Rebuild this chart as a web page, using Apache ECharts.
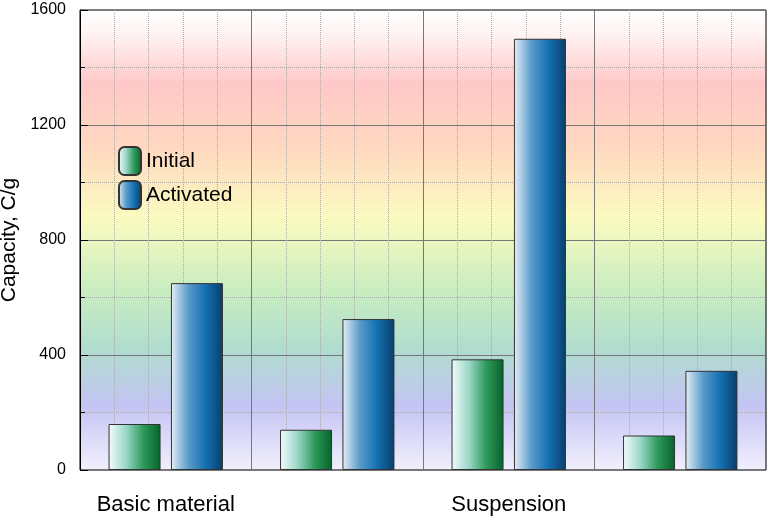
<!DOCTYPE html>
<html>
<head>
<meta charset="utf-8">
<script src="https://cdn.jsdelivr.net/npm/echarts@6/dist/echarts.min.js"></script>
<style>html,body{margin:0;padding:0;background:#fff}#chart{width:768px;height:519px}</style>
</head>
<body>
<div id="chart"></div>
<script>
const categories = ['Basic material', 'Light fraction', 'Suspension', 'Sediment'];
const initialValues = [160, 140, 385, 120];
const activatedValues = [650, 525, 1500, 345];
const yTicks = [0, 400, 800, 1200, 1600];

const chart = echarts.init(document.getElementById('chart'));

function barGrad(stops) {
  return new echarts.graphic.LinearGradient(0, 0, 1, 0,
    stops.map((c, i) => ({offset: i / (stops.length - 1), color: c})));
}

chart.setOption({
  animation: false,
  backgroundColor: '#fff',
  grid: {
    left: 80, right: 2, top: 10, bottom: 49, outerBoundsMode: 'none', containLabel: false,
    show: true, borderColor: '#000', borderWidth: 1,
    backgroundColor: new echarts.graphic.LinearGradient(0, 0, 0, 1, [
      {offset: 0, color: '#ffffff'},
      {offset: 0.05, color: '#fff4f4'},
      {offset: 0.16, color: '#ffc8c8'},
      {offset: 0.3, color: '#ffd8c0'},
      {offset: 0.45, color: '#fbfbc0'},
      {offset: 0.62, color: '#c6ecc0'},
      {offset: 0.74, color: '#b0dcd0'},
      {offset: 0.86, color: '#c4c4f4'},
      {offset: 1, color: '#f2f0fc'}
    ])
  },
  legend: {
    orient: 'vertical', left: 113, top: 141, itemWidth: 22, itemHeight: 28, itemGap: 4,
    textStyle: {fontSize: 21, color: '#000', fontFamily: 'Arial, Liberation Sans'},
    data: ['Initial', 'Activated']
  },
  xAxis: [{
    type: 'category', data: categories,
    axisLine: {show: false}, axisTick: {show: false},
    axisLabel: {fontSize: 22, color: '#000', margin: 24, fontFamily: 'Arial, Liberation Sans'},
    splitLine: {show: false}
  }, {
    type: 'value', min: 0, max: 4, interval: 1, position: 'bottom',
    axisLine: {show: false}, axisTick: {show: false}, axisLabel: {show: false},
    splitLine: {show: true, lineStyle: {color: '#777', width: 1}},
    minorTick: {show: false, splitNumber: 5},
    minorSplitLine: {show: true, lineStyle: {color: '#aaa', type: 'dotted'}}
  }],
  yAxis: {
    type: 'value', min: yTicks[0], max: yTicks[yTicks.length - 1], interval: 400,
    name: 'Capacity, C/g', nameLocation: 'middle', nameGap: 55,
    nameTextStyle: {fontSize: 21, color: '#000', fontFamily: 'Arial, Liberation Sans'},
    axisLine: {show: true, lineStyle: {color: '#000'}},
    axisTick: {show: true, inside: true, length: 8, lineStyle: {color: '#000'}},
    minorTick: {show: true, splitNumber: 2, length: 5, lineStyle: {color: '#000'}},
    axisLabel: {fontSize: 16, color: '#000', margin: 14, fontFamily: 'Arial, Liberation Sans',
      formatter: v => String(v)},
    splitLine: {show: true, lineStyle: {color: '#777'}},
    minorSplitLine: {show: true, lineStyle: {color: '#aaa', type: 'dotted'}}
  },
  series: [{
    name: 'Initial', type: 'bar', data: initialValues, barWidth: 52, barGap: '20%',
    itemStyle: {color: barGrad(['#f4fcfc', '#9ad8c8', '#2e9a5a', '#06622c']), borderColor: '#333', borderWidth: 1}
  }, {
    name: 'Activated', type: 'bar', data: activatedValues, barWidth: 52,
    itemStyle: {color: barGrad(['#e6eef6', '#5a9ccc', '#1470b0', '#0a3e6a']), borderColor: '#333', borderWidth: 1}
  }]
});
</script>
</body>
</html>
